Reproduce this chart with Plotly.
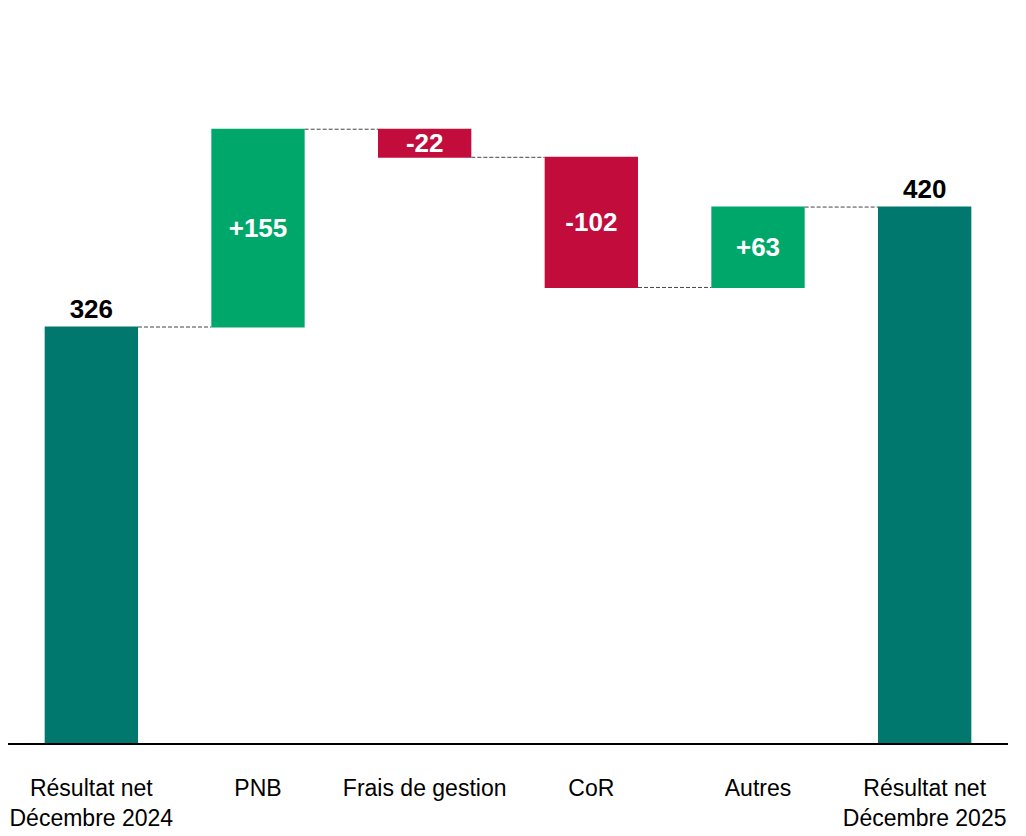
import plotly.graph_objects as go

categories = ["Résultat net<br>Décembre 2024", "PNB", "Frais de gestion", "CoR", "Autres",
              "Résultat net<br>Décembre 2025"]
measures = ["absolute", "relative", "relative", "relative", "relative", "total"]
values = [326, 155, -22, -102, 63, 420]
labels = ["326", "+155", "-22", "-102", "+63", "420"]
label_pos = ["outside", "inside", "inside", "inside", "inside", "outside"]

TEAL = "#00786E"
GREEN = "#00A76B"
RED = "#C20C3C"
FONT = "Liberation Sans Narrow, Arial Narrow, Liberation Sans, sans-serif"

fig = go.Figure(go.Waterfall(
    x=categories, y=values, measure=measures,
    text=labels, textposition=label_pos, constraintext="none",
    insidetextanchor="middle",
    insidetextfont=dict(family=FONT, size=26, color="white", weight="bold"),
    outsidetextfont=dict(family=FONT, size=26, color="black", weight="bold"),
    increasing=dict(marker=dict(color=GREEN)),
    decreasing=dict(marker=dict(color=RED)),
    totals=dict(marker=dict(color=TEAL)),
    connector=dict(line=dict(color="#444444", width=1, dash="4px,2px")),
    cliponaxis=False,
))

# the page adds an 8px body margin, so the margins here are shifted by that
fig.update_layout(
    width=1026, height=836,
    margin=dict(l=0, r=26, t=0, b=101, autoexpand=False),
    paper_bgcolor="white", plot_bgcolor="white",
    showlegend=False, waterfallgap=0.44,
    font=dict(family=FONT, size=23, color="black"),
    xaxis=dict(showline=True, linecolor="black", linewidth=2, ticks="", automargin=False,
               ticklabelstandoff=23, showgrid=False, zeroline=False),
    yaxis=dict(range=[0, 576], visible=False, automargin=False,
               showgrid=False, zeroline=False),
)

fig.write_html("out.html")
